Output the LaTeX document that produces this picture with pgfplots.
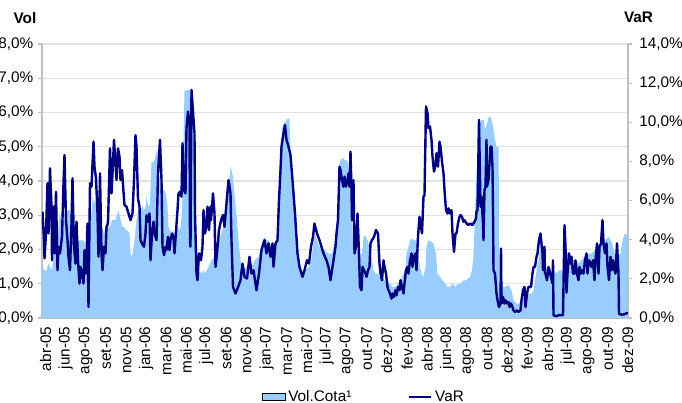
\documentclass[border=0pt]{standalone}
\usepackage{fontspec}
\setmainfont{Liberation Sans}
\usepackage{pgfplots}
\pgfplotsset{compat=1.18}
\usepackage{pgfplotstable}

\definecolor{volblue}{RGB}{153,204,255}
\definecolor{varnavy}{RGB}{0,0,128}
\definecolor{gridgray}{RGB}{226,226,226}
\definecolor{axisgray}{RGB}{192,192,192}

% Vol (left axis, %), x = trading day index
\pgfplotstableread[row sep=\\]{
x vol\\
0 1.59\\ 1 1.49\\ 5 1.39\\ 9 1.39\\ 13 1.59\\ 16 1.49\\ 20 1.39\\ 23 1.78\\ 27 2.17\\ 31 2.56\\
33 2.66\\ 36 3.15\\ 39 2.66\\ 43 2.86\\ 47 2.95\\ 49 3.05\\ 52 3.15\\ 56 3.15\\ 60 2.95\\ 63 2.47\\
67 2.37\\ 69 2.27\\ 73 2.27\\ 76 2.27\\ 80 2.27\\ 84 2.27\\ 87 1.98\\ 91 1.88\\ 93 1.78\\ 96 2.66\\
99 3.05\\ 101 3.54\\ 104 3.34\\ 107 3.44\\ 109 3.25\\ 113 3.05\\ 116 2.66\\ 119 2.56\\ 121 2.66\\ 124 2.47\\
127 2.66\\ 129 2.86\\ 133 2.66\\ 136 2.66\\ 140 2.86\\ 143 2.86\\ 147 2.86\\ 151 3.05\\ 153 3.15\\ 156 2.95\\
159 2.76\\ 161 2.66\\ 164 2.66\\ 168 2.56\\ 171 2.56\\ 175 2.47\\ 177 1.88\\ 180 1.78\\ 183 2.08\\ 185 2.27\\
189 2.86\\ 192 3.15\\ 196 2.86\\ 199 3.25\\ 201 3.25\\ 204 3.15\\ 207 3.25\\ 209 3.54\\ 213 3.25\\ 216 3.34\\
219 4.56\\ 223 4.56\\ 225 4.61\\ 228 4.80\\ 231 4.90\\ 233 4.42\\ 237 3.73\\ 240 3.63\\ 243 3.73\\ 245 3.73\\
248 3.63\\ 251 3.25\\ 253 2.66\\ 256 2.56\\ 259 2.47\\ 261 2.56\\ 264 2.47\\ 267 2.56\\ 269 2.66\\ 272 2.66\\
275 2.56\\ 277 2.66\\ 280 3.05\\ 283 5.20\\ 285 6.61\\ 288 6.66\\ 292 6.66\\ 295 6.66\\ 298 6.66\\ 301 6.17\\
302 5.20\\ 306 3.05\\ 309 2.27\\ 313 1.39\\ 319 1.30\\ 323 1.39\\ 326 1.30\\ 333 1.49\\ 339 1.69\\ 346 1.78\\
353 2.27\\ 359 2.47\\ 366 2.86\\ 370 3.63\\ 374 3.93\\ 377 4.42\\ 379 4.32\\ 382 4.12\\ 386 3.44\\ 390 2.86\\
393 2.27\\ 397 1.69\\ 401 1.39\\ 406 1.49\\ 413 1.39\\ 419 1.49\\ 426 1.69\\ 433 1.78\\ 438 2.08\\ 442 2.27\\
446 2.37\\ 450 2.27\\ 454 2.27\\ 459 2.08\\ 463 1.39\\ 467 2.08\\ 471 2.37\\ 474 3.83\\ 477 4.90\\ 481 5.58\\
485 5.68\\ 489 5.78\\ 493 5.83\\ 495 5.78\\ 498 4.51\\ 501 4.03\\ 505 3.44\\ 509 2.56\\ 513 1.88\\ 517 1.39\\
521 1.30\\ 526 1.39\\ 533 1.49\\ 538 1.59\\ 542 2.08\\ 546 2.47\\ 550 2.27\\ 555 2.08\\ 559 1.98\\ 566 1.98\\
573 1.88\\ 580 1.88\\ 583 2.08\\ 587 2.27\\ 589 2.66\\ 592 3.54\\ 595 4.51\\ 597 4.61\\ 600 4.66\\ 603 4.66\\
605 4.61\\ 608 4.61\\ 611 4.56\\ 613 4.42\\ 616 4.03\\ 619 3.25\\ 621 2.47\\ 624 2.27\\ 627 1.88\\ 629 2.08\\
632 1.88\\ 636 1.88\\ 640 1.88\\ 643 2.37\\ 645 2.42\\ 648 2.37\\ 651 2.27\\ 653 2.17\\ 656 2.08\\ 660 1.69\\
663 1.39\\ 667 1.30\\ 671 1.30\\ 675 1.20\\ 680 1.20\\ 685 1.10\\ 691 1.10\\ 696 1.00\\ 701 0.91\\ 707 0.91\\
712 1.00\\ 717 1.10\\ 723 1.30\\ 727 1.49\\ 729 1.88\\ 733 2.08\\ 736 2.27\\ 740 2.32\\ 744 2.27\\ 749 2.27\\
753 1.88\\ 756 1.49\\ 759 1.30\\ 763 1.20\\ 767 1.49\\ 769 2.08\\ 773 2.27\\ 779 2.22\\ 783 2.17\\ 788 1.88\\
791 1.30\\ 796 1.20\\ 801 1.10\\ 807 1.00\\ 811 0.91\\ 816 0.91\\ 821 1.00\\ 827 0.91\\ 832 1.00\\ 837 1.00\\
843 1.10\\ 848 1.10\\ 852 1.15\\ 856 1.20\\ 860 1.39\\ 863 1.78\\ 865 2.66\\ 868 3.83\\ 871 4.61\\ 873 5.00\\
874 5.68\\ 879 5.78\\ 883 5.78\\ 886 5.49\\ 890 5.68\\ 894 5.88\\ 898 5.88\\ 902 5.58\\ 906 5.20\\ 909 5.00\\
913 5.00\\ 914 3.25\\ 915 0.91\\ 919 0.91\\ 926 0.91\\ 933 0.96\\ 939 0.81\\ 943 0.52\\ 949 0.42\\ 954 0.42\\
959 0.52\\ 966 0.62\\ 973 0.71\\ 979 0.71\\ 983 0.81\\ 986 1.10\\ 990 1.49\\ 993 1.69\\ 997 2.08\\ 999 2.27\\
1003 1.88\\ 1007 1.49\\ 1013 1.39\\ 1019 1.30\\ 1023 1.39\\ 1029 1.30\\ 1034 1.39\\ 1039 1.39\\ 1045 1.49\\ 1050 1.88\\
1055 1.88\\ 1061 1.69\\ 1066 1.69\\ 1073 1.59\\ 1079 1.69\\ 1086 1.78\\ 1093 1.88\\ 1099 1.88\\ 1106 1.98\\ 1113 2.08\\
1119 2.27\\ 1126 2.27\\ 1133 2.37\\ 1139 2.22\\ 1146 1.88\\ 1151 1.78\\ 1157 1.88\\ 1159 2.08\\ 1163 2.37\\ 1166 2.47\\
1170 2.42\\ 1172 2.27\\
}\voldata

% VaR (right axis, %)
\pgfplotstableread[row sep=\\]{
x var\\
1 5.43\\ 4 3.98\\ 5 3.04\\ 8 4.32\\ 11 6.88\\ 13 4.32\\ 16 7.65\\ 19 5.69\\ 20 2.95\\ 23 5.69\\
25 3.30\\ 28 6.45\\ 31 2.44\\ 33 3.64\\ 36 3.30\\ 40 4.15\\ 43 6.88\\ 45 8.33\\ 48 5.00\\ 51 3.98\\
53 3.13\\ 56 2.44\\ 59 4.83\\ 61 7.14\\ 64 3.64\\ 67 2.78\\ 69 4.92\\ 72 2.95\\ 75 1.76\\ 77 2.61\\
80 2.27\\ 83 1.76\\ 85 3.47\\ 88 2.27\\ 91 4.83\\ 93 0.56\\ 96 6.88\\ 99 6.71\\ 103 9.01\\ 105 7.73\\
108 7.14\\ 111 5.34\\ 113 3.13\\ 116 7.39\\ 119 3.30\\ 121 2.44\\ 124 3.64\\ 127 3.30\\ 129 4.66\\ 132 4.83\\
136 8.67\\ 139 6.37\\ 141 7.39\\ 144 9.10\\ 147 7.90\\ 149 7.05\\ 152 8.67\\ 155 8.25\\ 157 7.05\\ 160 7.56\\
163 6.45\\ 165 5.77\\ 169 5.69\\ 173 5.34\\ 177 5.00\\ 181 5.34\\ 184 7.05\\ 187 9.35\\ 189 8.76\\ 192 6.11\\
195 5.69\\ 197 3.98\\ 200 3.81\\ 204 3.64\\ 207 4.32\\ 209 5.26\\ 212 4.92\\ 215 5.34\\ 217 2.95\\ 220 4.32\\
223 4.92\\ 225 4.32\\ 229 3.98\\ 232 7.39\\ 236 9.10\\ 239 7.05\\ 241 3.64\\ 244 3.21\\ 247 3.64\\ 249 3.47\\
252 4.15\\ 255 3.47\\ 257 3.98\\ 260 4.32\\ 263 4.15\\ 265 3.30\\ 268 4.41\\ 271 5.51\\ 273 6.37\\ 276 6.45\\
279 6.20\\ 281 8.93\\ 284 6.54\\ 287 6.37\\ 289 9.70\\ 292 10.55\\ 295 9.95\\ 296 3.98\\ 297 3.64\\ 299 11.66\\
302 10.55\\ 305 9.44\\ 306 5.34\\ 309 2.27\\ 311 1.93\\ 314 3.30\\ 318 2.95\\ 321 3.64\\ 323 5.51\\ 326 4.32\\
329 4.75\\ 331 5.69\\ 334 4.49\\ 337 5.69\\ 338 5.00\\ 342 6.37\\ 345 5.34\\ 347 2.61\\ 350 3.30\\ 354 4.49\\
358 5.00\\ 362 5.26\\ 365 4.66\\ 369 5.86\\ 373 7.05\\ 377 6.37\\ 379 3.98\\ 382 1.59\\ 387 1.25\\ 391 1.50\\
397 1.93\\ 401 2.78\\ 405 2.10\\ 410 2.02\\ 415 3.13\\ 419 2.27\\ 423 2.44\\ 429 1.42\\ 434 2.27\\ 439 3.47\\
445 3.98\\ 449 3.30\\ 453 3.81\\ 457 3.13\\ 461 3.81\\ 463 2.61\\ 467 3.81\\ 471 3.98\\ 474 6.03\\ 477 7.56\\
479 8.76\\ 483 9.44\\ 486 9.87\\ 489 9.10\\ 493 8.76\\ 497 8.33\\ 501 7.05\\ 506 5.34\\ 511 3.30\\ 515 2.61\\
521 2.10\\ 525 2.44\\ 530 2.95\\ 534 2.78\\ 538 3.64\\ 542 4.15\\ 545 4.83\\ 550 4.32\\ 555 3.98\\ 559 3.64\\
563 3.30\\ 569 2.95\\ 573 2.61\\ 577 1.93\\ 583 2.95\\ 587 3.64\\ 589 4.32\\ 592 5.00\\ 595 7.73\\ 597 7.56\\
600 7.05\\ 603 6.71\\ 605 7.22\\ 608 6.71\\ 611 7.05\\ 613 7.39\\ 615 6.71\\ 617 8.50\\ 619 6.54\\ 620 5.00\\
623 7.05\\ 624 5.00\\ 625 3.30\\ 628 3.64\\ 631 5.34\\ 633 3.98\\ 636 1.59\\ 639 1.42\\ 641 2.61\\ 644 2.44\\
647 2.27\\ 649 2.10\\ 652 2.44\\ 655 2.61\\ 657 3.81\\ 660 3.98\\ 664 4.15\\ 668 4.49\\ 672 4.32\\ 675 2.78\\
677 2.27\\ 680 1.93\\ 683 2.95\\ 685 2.61\\ 688 2.27\\ 691 1.59\\ 693 1.42\\ 696 1.25\\ 699 0.99\\ 701 1.25\\
704 1.08\\ 707 1.42\\ 709 1.16\\ 712 1.59\\ 715 1.42\\ 717 1.93\\ 720 1.59\\ 723 1.25\\ 725 1.76\\ 728 2.44\\
731 2.61\\ 733 2.27\\ 736 2.95\\ 739 3.30\\ 741 2.61\\ 744 3.13\\ 747 3.30\\ 749 2.44\\ 752 4.15\\ 755 5.17\\
757 4.83\\ 760 4.32\\ 763 6.20\\ 765 6.28\\ 768 10.81\\ 771 10.46\\ 773 9.70\\ 776 9.78\\ 779 9.10\\ 781 8.25\\
784 7.48\\ 787 7.82\\ 789 8.42\\ 792 7.73\\ 795 9.01\\ 797 8.76\\ 800 7.99\\ 803 7.39\\ 805 6.54\\ 808 5.51\\
811 5.34\\ 813 5.60\\ 816 5.34\\ 819 5.51\\ 821 4.32\\ 824 3.38\\ 827 4.32\\ 829 4.32\\ 832 4.83\\ 835 5.17\\
837 5.26\\ 840 5.17\\ 843 4.92\\ 845 5.00\\ 849 4.83\\ 853 4.75\\ 857 4.83\\ 861 4.75\\ 865 4.92\\ 868 5.09\\
869 5.43\\ 871 5.51\\ 874 10.12\\ 877 5.69\\ 879 6.20\\ 882 4.83\\ 883 3.98\\ 885 6.54\\ 887 6.71\\ 889 9.10\\
890 6.71\\ 893 7.05\\ 895 7.90\\ 897 8.76\\ 899 8.76\\ 901 7.73\\ 902 5.51\\ 903 2.44\\ 906 2.27\\ 909 1.25\\
911 0.91\\ 914 0.56\\ 917 0.74\\ 918 3.55\\ 919 0.74\\ 922 1.08\\ 925 0.74\\ 927 0.91\\ 930 0.74\\ 933 0.82\\
935 0.56\\ 938 0.74\\ 941 0.56\\ 943 0.39\\ 946 0.31\\ 949 0.39\\ 953 0.31\\ 957 0.39\\ 959 0.91\\ 962 1.42\\
965 1.59\\ 967 0.56\\ 970 1.25\\ 973 1.59\\ 975 1.59\\ 978 1.59\\ 981 2.27\\ 983 2.61\\ 986 2.61\\ 989 3.13\\
991 3.30\\ 994 3.98\\ 997 4.32\\ 999 3.81\\ 1001 3.30\\ 1002 2.44\\ 1003 2.95\\ 1005 3.64\\ 1006 2.27\\ 1007 2.27\\
1010 1.93\\ 1013 2.61\\ 1015 2.44\\ 1018 2.10\\ 1021 1.76\\ 1022 2.95\\ 1023 0.14\\ 1029 0.09\\ 1034 0.15\\ 1039 0.15\\
1042 0.15\\ 1045 4.75\\ 1047 3.64\\ 1049 1.30\\ 1051 2.27\\ 1054 3.30\\ 1057 2.78\\ 1059 3.13\\ 1062 2.27\\ 1065 2.27\\
1067 2.95\\ 1070 2.27\\ 1073 1.93\\ 1075 2.61\\ 1078 2.27\\ 1081 2.44\\ 1083 2.27\\ 1086 2.95\\ 1089 3.30\\ 1091 2.27\\
1094 2.95\\ 1097 2.78\\ 1099 2.61\\ 1102 2.95\\ 1105 1.93\\ 1107 2.95\\ 1110 3.81\\ 1113 2.27\\ 1115 3.64\\ 1118 3.81\\
1121 5.00\\ 1123 3.81\\ 1126 3.30\\ 1129 3.81\\ 1131 2.61\\ 1134 1.93\\ 1137 3.13\\ 1139 2.44\\ 1142 2.95\\ 1145 2.44\\
1147 2.27\\ 1150 3.81\\ 1153 2.27\\ 1154 0.22\\ 1159 0.17\\ 1165 0.19\\ 1170 0.26\\ 1172 0.22\\
}\vardata

\begin{document}
\begin{tikzpicture}[font=\fontsize{11.5}{13.8}\selectfont]
\pgfplotsset{
  every axis/.append style={
    width=439.5pt, height=205.5pt, scale only axis,
    xmin=0, xmax=1172,
    /pgf/number format/assume math mode=true,
    axis line style={axisgray, line width=0.8pt},
    tick style={axisgray, line width=0.8pt},
    tick align=outside, major tick length=3pt,
    yticklabel={\pgfmathprintnumber[fixed,fixed zerofill,precision=1,use comma]{\tick}\%},
  },
}
% left axis: Vol area
\begin{axis}[
  ymin=0, ymax=8, ytick={0,1,...,8},
  axis x line*=bottom, axis y line*=left,
  ymajorgrids, grid style={gridgray, line width=0.8pt},
  xtick={2,42,82,122,163,203,243,283,323,363,403,444,484,524,564,604,644,684,725,765,805,845,885,925,965,1006,1046,1086,1126,1166},
  xticklabels={abr-05,jun-05,ago-05,set-05,nov-05,jan-06,mar-06,mai-06,jul-06,set-06,nov-06,jan-07,mar-07,mai-07,jul-07,ago-07,out-07,dez-07,fev-08,abr-08,jun-08,ago-08,out-08,dez-08,fev-09,abr-09,jul-09,ago-09,out-09,dez-09},
  x tick label style={rotate=90, anchor=east, yshift=-2pt},
  xtick style={draw=none},
]
\addplot[fill=volblue, draw=none] table[x=x, y=vol] {\voldata} \closedcycle;
\end{axis}
% right axis: VaR line
\begin{axis}[
  ymin=0, ymax=14, ytick={0,2,...,14},
  axis x line=none, axis y line*=right,
  y tick label style={xshift=2pt},
  legend style={at={(0.5503,-0.288)}, anchor=center, draw=none, fill=none,
    legend columns=2, /tikz/every even column/.append style={column sep=40pt}},
]
\addlegendimage{area legend, fill=volblue, draw=none}
\addlegendentry{Vol.Cota¹}
\addplot[varnavy, line width=1.8pt, line join=round] table[x=x, y=var] {\vardata};
\addlegendentry{VaR}
\end{axis}
\node[font=\fontsize{11.5}{13.8}\selectfont\bfseries] at (-12.75pt,225pt) {Vol};
\node[font=\fontsize{11.5}{13.8}\selectfont\bfseries] at (447.4pt,225.75pt) {VaR};
\pgfresetboundingbox
\path (-31.5pt,-63.75pt) rectangle (480pt,238.5pt);
\end{tikzpicture}
\end{document}
